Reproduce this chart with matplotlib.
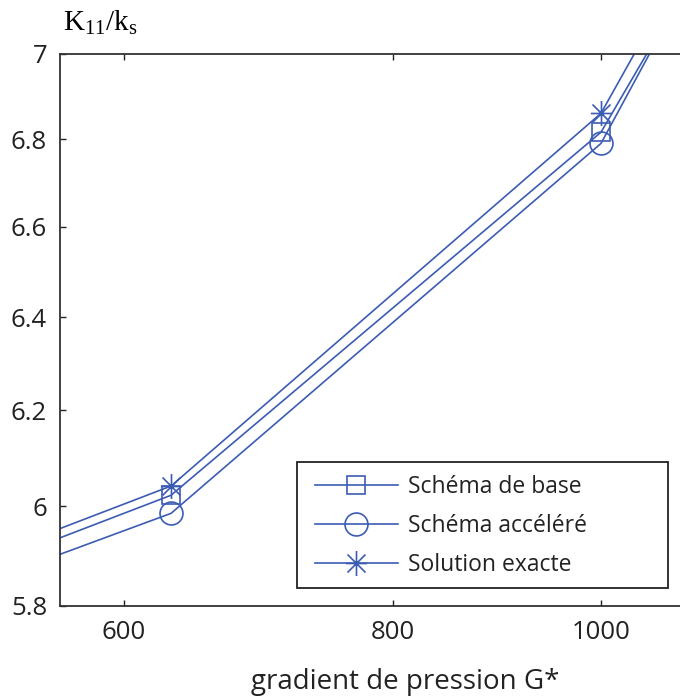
import matplotlib
matplotlib.use("Agg")
import matplotlib.pyplot as plt
from matplotlib.path import Path
from matplotlib.patches import Rectangle
from matplotlib.ticker import FixedLocator, FixedFormatter, NullLocator

# values (log-log plot, points spaced 10^0.2 apart)
G = [398.1, 631.0, 1000.0, 1584.9]
base = [5.694, 6.023, 6.816, 8.76]
accel = [5.671, 5.986, 6.790, 8.90]
exact = [5.712, 6.042, 6.860, 8.91]

xticks = [600, 800, 1000]
xticklabels = ["600", "800", "1000"]
yticks = [5.8, 6.0, 6.2, 6.4, 6.6, 6.8, 7.0]
yticklabels = ["5.8", "6", "6.2", "6.4", "6.6", "6.8", "7"]

blue = "#3c5cb4"
ink = "#222222"
plt.rcParams["font.family"] = ["Open Sans", "DejaVu Sans"]
plt.rcParams["mathtext.fontset"] = "custom"
plt.rcParams["mathtext.rm"] = "Liberation Serif"
plt.rcParams["mathtext.it"] = "Liberation Serif:italic"

# MATLAB-style asterisk marker
M, L = Path.MOVETO, Path.LINETO
asterisk = Path([(-0.85, 0), (0.85, 0), (0, -1), (0, 1),
                 (-0.72, -0.72), (0.72, 0.72), (-0.72, 0.72), (0.72, -0.72)],
                [M, L, M, L, M, L, M, L])

fig = plt.figure(figsize=(6.8, 7.0), dpi=100)
ax = fig.add_axes([59.6 / 680, 94 / 700, 630.4 / 680, 552 / 700])

common = dict(color=blue, lw=1.2, mfc="none", mec=blue, mew=1.2)
ax.plot(G, base, marker="s", ms=13.5, label="Schéma de base", **common)
ax.plot(G, accel, marker="o", ms=16.5, label="Schéma accéléré", **common)
ax.plot(G, exact, marker=asterisk, ms=18, label="Solution exacte", **common)

ax.set_xscale("log")
ax.set_yscale("log")
ax.set_xlim(560, 1100)
ax.set_ylim(5.8, 7.0)

ax.xaxis.set_major_locator(FixedLocator(xticks))
ax.xaxis.set_major_formatter(FixedFormatter(xticklabels))
ax.xaxis.set_minor_locator(NullLocator())
ax.yaxis.set_major_locator(FixedLocator(yticks))
ax.yaxis.set_major_formatter(FixedFormatter(yticklabels))
ax.yaxis.set_minor_locator(NullLocator())

ax.tick_params(direction="in", length=4, width=1, top=True, right=True,
               labelsize=18.5, colors=ink)
ax.tick_params(axis="x", pad=10)
ax.tick_params(axis="y", pad=9)
for s in ax.spines.values():
    s.set_linewidth(1.3)
    s.set_color("#333333")

# legend content without frame, frame drawn as a plain box (MATLAB style)
leg = ax.legend(loc="upper left", bbox_to_anchor=(315 / 680, 1 - 475 / 700),
                bbox_transform=fig.transFigure, fontsize=16.5, frameon=False,
                handlelength=3.62, handletextpad=0.44, labelspacing=0.66,
                borderpad=0, borderaxespad=0)
for t in leg.get_texts():
    t.set_color(ink)
box = Rectangle((297 / 680, 1 - 588 / 700), 371 / 680, 126 / 700,
                transform=fig.transFigure, fc="white", ec=ink, lw=1.3,
                zorder=4)
ax.add_patch(box)
box.set_clip_on(False)
leg.set_zorder(5)

fig.text(63 / 680, 1 - 31 / 700, r"K$_{\mathrm{11}}$/k$_{\mathrm{s}}$",
         family="Liberation Serif", fontsize=21, va="baseline", ha="left")
fig.text(405 / 680, 1 - 689 / 700, "gradient de pression G*", fontsize=20,
         va="baseline", ha="center", color=ink)

fig.savefig("out.png", dpi=100)
